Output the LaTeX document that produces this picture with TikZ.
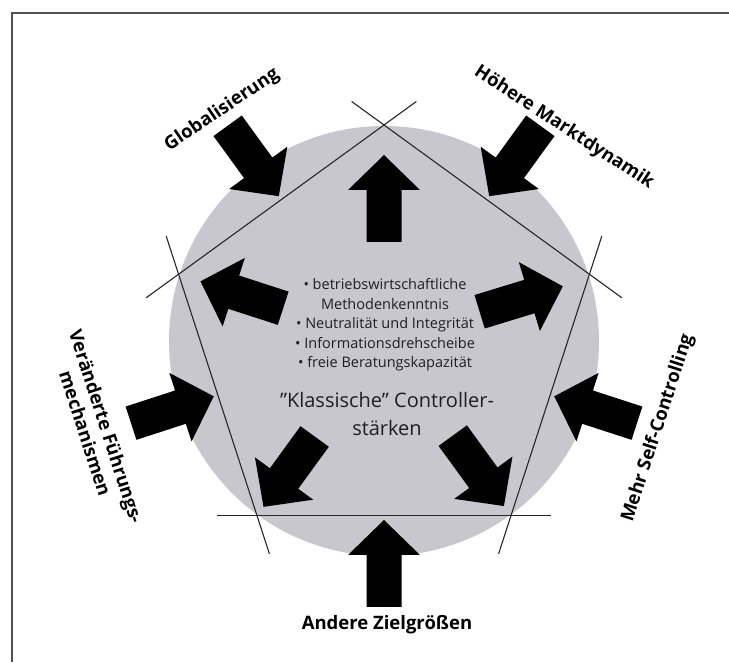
\documentclass[tikz,border=0pt]{standalone}
\usepackage{fontspec}
\setmainfont{Open Sans}
\usetikzlibrary{calc}
\definecolor{discgray}{RGB}{201,199,206}
\definecolor{framegray}{RGB}{80,80,80}
\definecolor{textgray}{RGB}{30,30,36}
\begin{document}
\begin{tikzpicture}[x=1pt,y=1pt,
  pentaside/.style={line width=1.1pt, black!85},
  outerlabel/.style={font=\bfseries\fontsize{18.5}{22}\selectfont, align=center, inner sep=0pt, text=black},
  listtext/.style={font=\fontsize{14.5}{19.5}\selectfont, align=center, inner sep=0pt, text=textgray},
  headtext/.style={font=\fontsize{20}{28}\selectfont, align=center, inner sep=0pt, text=textgray},
  blockarrow/.pic={\fill[black] (0,0) -- (-35,36) -- (-35,17.5) -- (-87,17.5)
                   -- (-87,-17.5) -- (-35,-17.5) -- (-35,-36) -- cycle;}
]
\useasboundingbox (0,0) rectangle (729,662);
\coordinate (C) at (384,321);

% grey disc
\fill[discgray] (C) circle[radius=215];

% frame (top and left edge)
\draw[framegray, line width=1.5pt] (12,0) -- (12,649) -- (729,649);

% pentagon corners and its extended sides
\foreach \k in {0,...,4}
  \coordinate (V\k) at ($(C)+({90+72*\k}:216)$);
\foreach \a/\b in {0/1,1/2,2/3,3/4,4/0}
  \draw[pentaside] ($(V\a)!-40pt!(V\b)$) -- ($(V\b)!-40pt!(V\a)$);

% arrows from the centre towards the corners
\foreach \ang/\r in {90/186, 17/187, 162/193, 234/205, 306/204}
  \pic[rotate=\ang] at ($(C)+(\ang:\r)$) {blockarrow};

% arrows from outside onto the sides
\foreach \ang in {126, 54, 198, -18, 270}
  \pic[rotate=\ang+180] at ($(C)+(\ang:179)$) {blockarrow};

% texts inside the disc
\node[listtext] (list) at (385,337)
  {• betriebswirtschaftliche\\Methodenkenntnis\\• Neutralität und Integrität\\• Informationsdrehscheibe\\• freie Beratungskapazität};
\node[headtext] (strengths) at (387,248) {\char"22Klassische\char"22{} Controller-\\stärken};

% outer labels
\node[outerlabel, rotate=34] (glob) at (222,552) {Globalisierung};
\node[outerlabel, rotate=-33] (markt) at (564,534) {Höhere Marktdynamik};
\node[outerlabel, rotate=-72] (fuehr) at (96,232) {Veränderte Führungs-\\mechanismen};
\node[outerlabel, rotate=72] (self) at (658,234) {Mehr Self-Controlling};
\node[outerlabel] (ziel) at (387,37) {Andere Zielgrößen};
\end{tikzpicture}
\end{document}
